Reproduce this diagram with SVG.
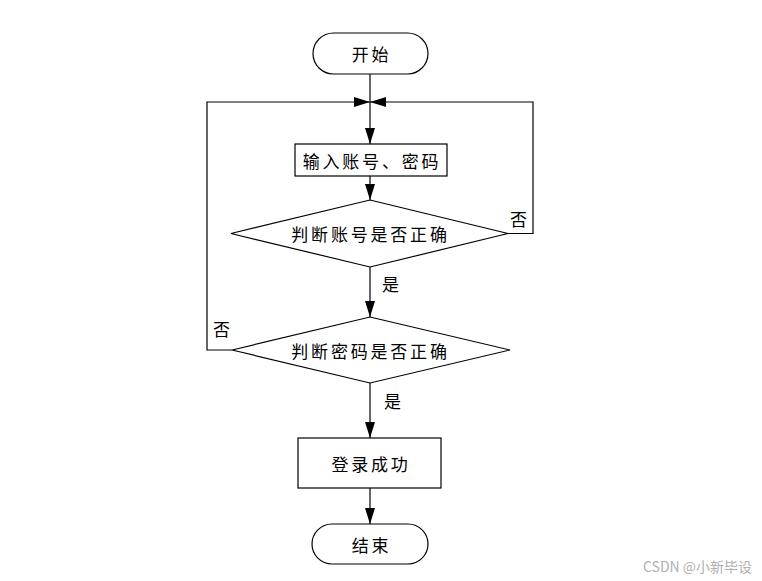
<svg xmlns="http://www.w3.org/2000/svg" width="762" height="581" viewBox="0 0 762 581">
<defs>
<style>
.shape{fill:#fff;stroke:#000;stroke-width:1.2}
.line{fill:none;stroke:#000;stroke-width:1.2}
.t{font-family:"Noto Sans CJK SC","Noto Sans",sans-serif;font-size:17px;letter-spacing:2.8px;fill:#000;text-anchor:middle;dominant-baseline:central}
.l{font-family:"Noto Sans CJK SC","Noto Sans",sans-serif;font-size:17px;fill:#000;dominant-baseline:central}
.wm{font-family:"Noto Sans CJK SC","Liberation Sans",sans-serif;font-size:14px;fill:#b0b0b0;dominant-baseline:central}
</style>
<marker id="arr" markerWidth="16" markerHeight="10" refX="16" refY="5" orient="auto" markerUnits="userSpaceOnUse">
<path d="M0,0 L16,5 L0,10 Z" fill="#000"/>
</marker>
</defs>
<rect width="762" height="581" fill="#fff"/>
<g id="connectors">
<line class="line" x1="370" y1="74" x2="370" y2="144" marker-end="url(#arr)"/>
<line class="line" x1="370" y1="176" x2="370" y2="200" marker-end="url(#arr)"/>
<polyline class="line" points="508,233.5 533,233.5 533,102 370,102" marker-end="url(#arr)"/>
<line class="line" x1="370" y1="267" x2="370" y2="317" marker-end="url(#arr)"/>
<polyline class="line" points="232,350 207,350 207,102 370,102" marker-end="url(#arr)"/>
<line class="line" x1="370" y1="383" x2="370" y2="438" marker-end="url(#arr)"/>
<line class="line" x1="370" y1="488" x2="370" y2="524" marker-end="url(#arr)"/>
<text class="l" x="510" y="218">否</text>
<text class="l" x="382" y="283">是</text>
<text class="l" x="213" y="328">否</text>
<text class="l" x="384" y="400">是</text>
</g>
<g id="start">
<rect class="shape" x="313" y="33" width="115" height="41" rx="20.5"/>
<text class="t" x="371.5" y="53.5">开始</text>
</g>
<g id="input">
<rect class="shape" x="295" y="144" width="152" height="32"/>
<text class="t" x="372" y="160">输入账号、密码</text>
</g>
<g id="checkAccount">
<polygon class="shape" points="370,200 508,233.5 370,267 231,233.5"/>
<text class="t" x="370.5" y="233.5">判断账号是否正确</text>
</g>
<g id="checkPassword">
<polygon class="shape" points="370,317 510,350 370,383 232,350"/>
<text class="t" x="370.5" y="350">判断密码是否正确</text>
</g>
<g id="success">
<rect class="shape" x="298" y="438" width="143" height="50"/>
<text class="t" x="371" y="463">登录成功</text>
</g>
<g id="end">
<rect class="shape" x="312" y="524" width="116" height="40" rx="20"/>
<text class="t" x="371.5" y="544">结束</text>
</g>
<text class="wm" x="643" y="566">CSDN @小新毕设</text>
</svg>
